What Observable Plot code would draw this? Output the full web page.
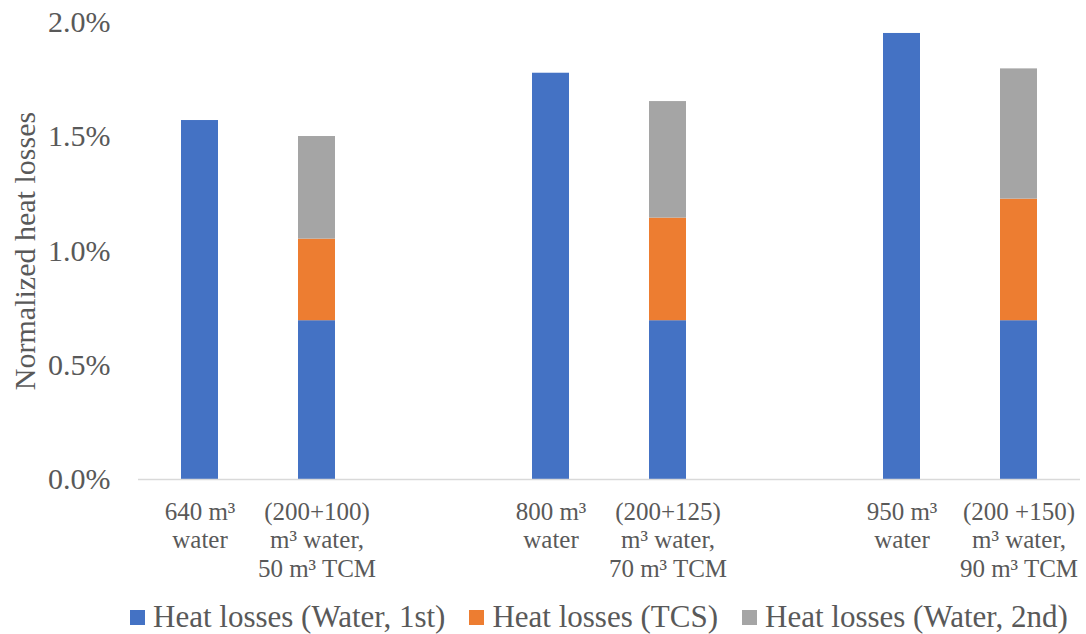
<!DOCTYPE html>
<html>
<head>
<meta charset="utf-8">
<script src="https://cdn.jsdelivr.net/npm/d3@7"></script>
<script src="https://cdn.jsdelivr.net/npm/@observablehq/plot@0.6"></script>
<style>
  body { margin: 0; background: #fff; overflow: hidden; }
  #legend { display: flex; align-items: center; height: 34px; padding-left: 130px; width: 1086px; box-sizing: border-box;
            font-family: "Liberation Serif", "Times New Roman", serif; font-size: 31px; color: #595959; white-space: nowrap; }
  #legend .item { display: flex; align-items: center; margin-right: 24px; flex-shrink: 0; }
  #legend .sw { width: 15px; height: 15px; margin-right: 8px; flex-shrink: 0; }
</style>
</head>
<body>
<div id="chart"></div>
<script>
// Slots along the x axis (empty strings are the gaps between groups)
const slotLabels = [
  "640 m³\nwater",
  "(200+100)\nm³ water,\n50 m³ TCM",
  "",
  "800 m³\nwater",
  "(200+125)\nm³ water,\n70 m³ TCM",
  "",
  "950 m³\nwater",
  "(200 +150)\nm³ water,\n90 m³ TCM"
];
// Series values in percent (null = gap slot)
const waterFirst  = [1.571, 0.695, null, 1.778, 0.695, null, 1.952, 0.695];
const tcs         = [0,     0.357, null, 0,     0.449, null, 0,     0.532];
const waterSecond = [0,     0.449, null, 0,     0.510, null, 0,     0.570];

const seriesNames  = ["Heat losses (Water, 1st)", "Heat losses (TCS)", "Heat losses (Water, 2nd)"];
const seriesColors = ["#4472C4", "#ED7D31", "#A5A5A5"];
const yTicks = [0, 0.5, 1.0, 1.5, 2.0];
const yLabel = "Normalized heat losses";

const seriesValues = [waterFirst, tcs, waterSecond];
const table = [];
slotLabels.forEach((lab, i) => {
  if (lab === "") return;
  seriesValues.forEach((arr, s) => {
    if (arr[i] > 0) table.push({slot: i, series: seriesNames[s], value: arr[i]});
  });
});

const plot = Plot.plot({
  width: 1086,
  height: 600,
  marginLeft: 138,
  marginRight: 6,
  marginTop: 22,
  marginBottom: 121,
  style: {fontFamily: "'Liberation Serif', 'Times New Roman', serif", color: "#595959", background: "#fff"},
  x: {domain: d3.range(slotLabels.length), paddingInner: 0.686, paddingOuter: 0.343, axis: null},
  y: {domain: [0, 2.0], axis: null},
  color: {domain: seriesNames, range: seriesColors},
  marks: [
    Plot.axisY({ticks: yTicks, tickFormat: d => d.toFixed(1) + "%", tickSize: 0, tickPadding: 28,
                fontSize: 30, label: null}),
    Plot.axisX({tickFormat: i => slotLabels[i], tickSize: 0, tickPadding: 20, fontSize: 25,
                lineHeight: 1.14, label: null}),
    Plot.barY(table, {x: "slot", y: "value", fill: "series"}),
    Plot.ruleY([0], {stroke: "#D9D9D9", strokeWidth: 1.3}),
    Plot.text([yLabel], {frameAnchor: "left", dx: -113, rotate: -90, fontSize: 30, fill: "#595959", textAnchor: "middle"})
  ]
});
document.getElementById("chart").appendChild(plot);

const legend = document.createElement("div");
legend.id = "legend";
seriesNames.forEach((n, i) => {
  const it = document.createElement("div");
  it.className = "item";
  const sw = document.createElement("div");
  sw.className = "sw";
  sw.style.background = seriesColors[i];
  const t = document.createElement("span");
  t.textContent = n;
  it.appendChild(sw); it.appendChild(t);
  legend.appendChild(it);
});
document.getElementById("chart").appendChild(legend);
</script>
</body>
</html>
